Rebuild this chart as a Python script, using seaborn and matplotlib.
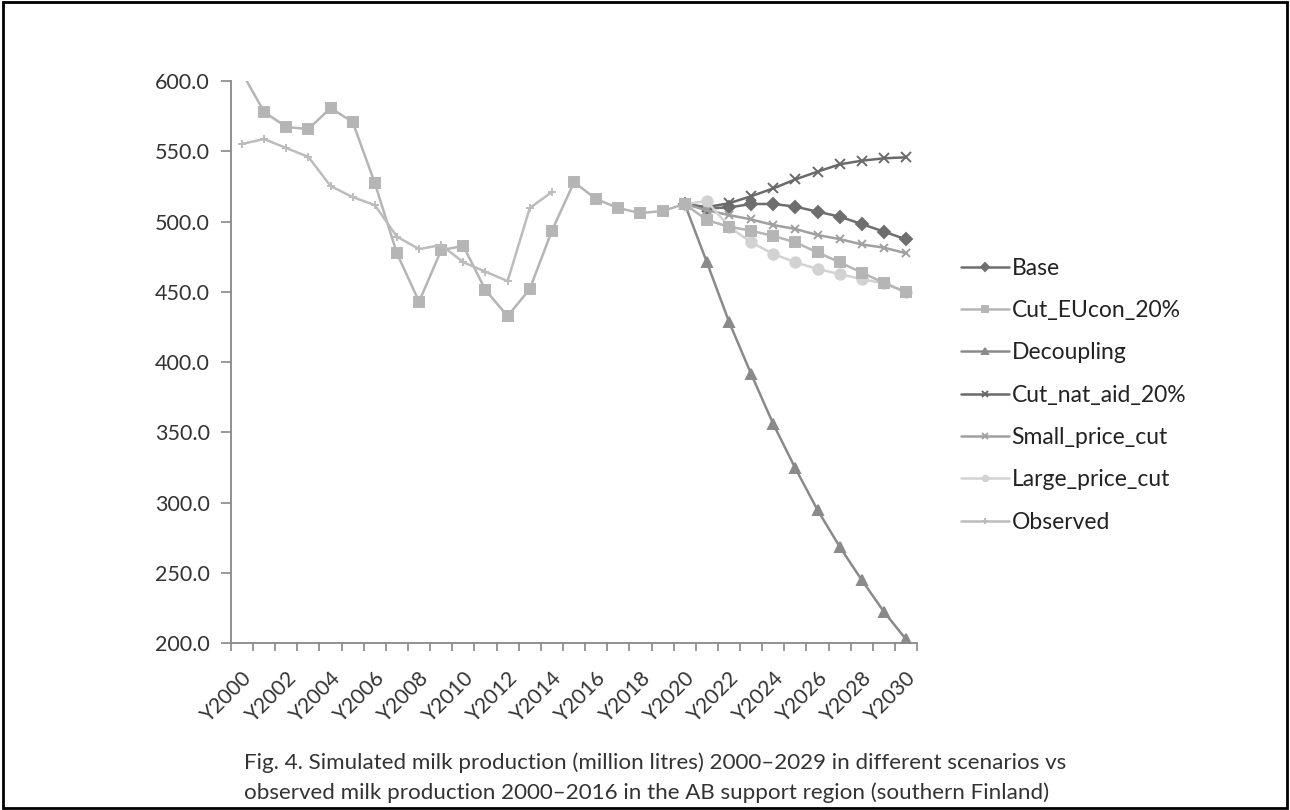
import pandas as pd
import seaborn as sns
import matplotlib.pyplot as plt
from matplotlib.patches import Rectangle
from matplotlib.ticker import FormatStrFormatter, FixedLocator
from matplotlib.transforms import ScaledTranslation

sns.set_theme(style="white")
plt.rcParams['font.family'] = ['Lato', 'DejaVu Sans']

# --- data ---
years = [f"Y{y}" for y in range(2000, 2031)]

# simulated history 2000-2020 (shared by all scenarios)
history = [606.0, 578.0, 567.3, 565.8, 580.8, 570.8, 527.4, 477.3, 443.0, 479.7,
           482.6, 451.2, 432.7, 452.0, 493.5, 528.0, 516.0, 509.6, 506.0, 507.5,
           512.5]

# projections 2021-2030
base = [509.4, 510.0, 512.5, 512.5, 510.6, 507.0, 503.5, 498.2, 492.8, 487.3]
cut_eucon = [501.0, 496.3, 493.5, 489.7, 485.2, 478.0, 471.0, 463.6, 456.4, 449.6]
decoupling = [471.0, 428.7, 391.5, 355.9, 324.3, 294.7, 268.6, 244.8, 222.3, 202.6]
cut_nat_aid = [510.3, 513.0, 518.0, 523.6, 530.0, 535.5, 540.7, 543.3, 545.0, 545.7]
small_price = [508.0, 504.6, 501.5, 497.5, 494.7, 490.4, 487.5, 483.7, 481.4, 477.4]
large_price = [514.5, 496.3, 485.2, 476.9, 471.0, 466.2, 462.6, 459.0, 456.0, 450.0]

# observed 2000-2014
observed = [555.2, 558.7, 552.3, 546.0, 525.3, 517.4, 511.7, 489.2, 480.4, 483.3,
            471.0, 464.3, 457.6, 509.6, 521.0]

series_order = ["Base", "Cut_EUcon_20%", "Decoupling", "Cut_nat_aid_20%",
                "Small_price_cut", "Large_price_cut", "Observed"]

# --- build a long table ---
frames = []
frames.append(pd.DataFrame({"x": range(20, 31), "value": [history[-1]] + base,
                            "series": "Base"}))
frames.append(pd.DataFrame({"x": range(0, 31), "value": history + cut_eucon,
                            "series": "Cut_EUcon_20%"}))
for name, proj in [("Decoupling", decoupling), ("Cut_nat_aid_20%", cut_nat_aid),
                   ("Small_price_cut", small_price), ("Large_price_cut", large_price)]:
    frames.append(pd.DataFrame({"x": range(20, 31), "value": [history[-1]] + proj,
                                "series": name}))
frames.append(pd.DataFrame({"x": range(0, len(observed)), "value": observed,
                            "series": "Observed"}))
df = pd.concat(frames, ignore_index=True)

palette = {
    "Base": "#6e6e6e",
    "Cut_EUcon_20%": "#b5b5b5",
    "Decoupling": "#8a8a8a",
    "Cut_nat_aid_20%": "#6a6a6a",
    "Small_price_cut": "#a0a0a0",
    "Large_price_cut": "#d2d2d2",
    "Observed": "#bcbcbc",
}
markers = {
    "Base": "D",
    "Cut_EUcon_20%": "s",
    "Decoupling": "^",
    "Cut_nat_aid_20%": "x",
    "Small_price_cut": "x",
    "Large_price_cut": "o",
    "Observed": "+",
}
msizes = {"Base": 6.5, "Cut_EUcon_20%": 7.5, "Decoupling": 7, "Cut_nat_aid_20%": 7,
          "Small_price_cut": 6, "Large_price_cut": 7.5, "Observed": 6}
zorders = {"Base": 2, "Cut_EUcon_20%": 3, "Decoupling": 2, "Cut_nat_aid_20%": 2,
           "Small_price_cut": 2, "Large_price_cut": 2, "Observed": 4}

fig = plt.figure(figsize=(12.9, 8.1), dpi=100)
ax = fig.add_axes([0.179, 0.206, 0.532, 0.694])

# one call per series: filled and line-art markers can't share a style mapping
for name in series_order:
    sub = df[df["series"] == name]
    sns.lineplot(data=sub, x="x", y="value", color=palette[name],
                 marker=markers[name], markersize=msizes[name],
                 markeredgecolor=palette[name], markeredgewidth=1.4,
                 linewidth=1.8, sort=False, label=name, zorder=zorders[name],
                 ax=ax)

# --- axes styling ---
ax.set_xlim(-0.5, 30.5)
ax.set_ylim(200, 600)
ax.set_yticks([200, 250, 300, 350, 400, 450, 500, 550, 600])
ax.yaxis.set_major_formatter(FormatStrFormatter('%.1f'))
ax.set_xticks(range(0, 31, 2))
ax.set_xticklabels(years[::2], rotation=45, ha="right", va="center",
                   rotation_mode="anchor")
ax.xaxis.set_minor_locator(FixedLocator([i - 0.5 for i in range(32)]))
ax.tick_params(axis="x", which="major", length=0, pad=23, labelsize=15.2,
               labelcolor="#333333")
ax.tick_params(axis="x", which="minor", length=6, width=1.2, color="#888888",
               direction="out", bottom=True)
ax.tick_params(axis="y", which="major", length=7, width=1.2, color="#888888",
               direction="out", left=True, labelsize=15.5, labelcolor="#333333", pad=8)
# nudge the rotated labels a little to the right, like the original
shift = ScaledTranslation(7 / 100, 0, fig.dpi_scale_trans)
for lbl in ax.get_xticklabels():
    lbl.set_transform(lbl.get_transform() + shift)
ax.set_xlabel("")
ax.set_ylabel("")
for s in ["top", "right"]:
    ax.spines[s].set_visible(False)
for s in ["left", "bottom"]:
    ax.spines[s].set_color("#888888")
    ax.spines[s].set_linewidth(1.3)

# --- legend ---
handles, labels = ax.get_legend_handles_labels()
ax.legend_.remove()
leg = fig.legend(handles, labels, loc="center left",
                 bbox_to_anchor=(0.729, 0.512), frameon=False, fontsize=16.5,
                 handlelength=2.1, handletextpad=0.1, labelspacing=0.93,
                 labelcolor="#222222")
for line in leg.get_lines():
    line.set_markersize(4)
    line.set_linewidth(1.8)

# --- caption ---
fig.text(0.189, 0.058, "Fig. 4. Simulated milk production (million litres) 2000–2029 in different scenarios vs",
         fontsize=16.1, color="#333333", va="center", ha="left")
fig.text(0.189, 0.021, "observed milk production 2000–2016 in the AB support region (southern Finland)",
         fontsize=16.1, color="#333333", va="center", ha="left")

# outer frame
fig.patches.append(Rectangle((0.002, 0.003), 0.996, 0.994, transform=fig.transFigure,
                             fill=False, edgecolor="black", linewidth=2))

fig.savefig("out.png", dpi=100)
